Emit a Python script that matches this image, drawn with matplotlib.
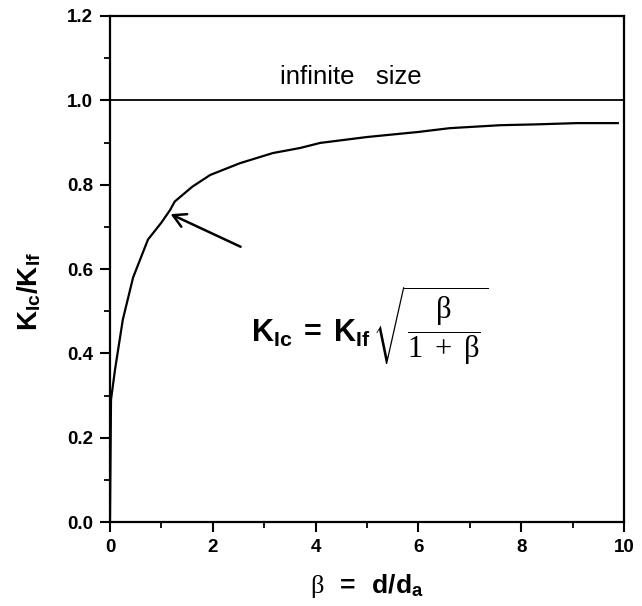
import numpy as np
import matplotlib
matplotlib.use("Agg")
import matplotlib.pyplot as plt
from matplotlib.ticker import MultipleLocator

plt.rcParams['font.family'] = ['Liberation Sans', 'DejaVu Sans']
plt.rcParams['mathtext.fontset'] = 'custom'
plt.rcParams['mathtext.bf'] = 'Liberation Sans:bold'
plt.rcParams['mathtext.rm'] = 'Liberation Serif'
plt.rcParams['mathtext.it'] = 'Liberation Serif:italic'

# size ratio curve, beta = d/d_a
beta = [0.0, 0.02, 0.1, 0.25, 0.45, 0.74, 1.0, 1.17, 1.26, 1.6, 1.95,
        2.53, 3.17, 3.7, 4.09, 5.0, 6.0, 6.61, 7.59, 8.3, 9.09, 9.88]
k_ratio = [0.0, 0.29, 0.363, 0.48, 0.58, 0.67, 0.71, 0.74, 0.76, 0.795, 0.823,
           0.851, 0.875, 0.887, 0.899, 0.913, 0.925, 0.934, 0.941, 0.943, 0.946, 0.946]
infinite_level = 1.0

fig = plt.figure(figsize=(6.42, 6.06), dpi=100)
ax = fig.add_axes([0.1713, 0.1386, 0.8006, 0.835])

ax.plot(beta, k_ratio, color='black', lw=1.6)
ax.axhline(infinite_level, color='black', lw=1.3)

ax.text(4.69, 1.055, 'infinite   size', fontsize=18.5, ha='center', va='center')

ax.annotate('', xy=(1.13, 0.733), xytext=(2.59, 0.65),
            arrowprops=dict(arrowstyle='->,head_length=0.9,head_width=0.5',
                            color='black', lw=1.8))

ax.text(5.06, 0.465,
        r'$\mathbf{K}_{\mathbf{Ic}}\ \mathbf{=}\ \mathbf{K}_{\mathbf{If}}\,'
        r'\sqrt{\dfrac{\mathrm{\beta}}{\mathrm{1\ +\ \beta}}}$',
        fontsize=22, ha='center', va='center')

ax.set_xlim(0, 10)
ax.set_ylim(0, 1.2)
ax.xaxis.set_minor_locator(MultipleLocator(1))
ax.yaxis.set_minor_locator(MultipleLocator(0.1))
ax.set_xticks(np.arange(0, 11, 2))
ax.set_xticklabels(['0', '2', '4', '6', '8', '10'])
ax.set_yticks(np.arange(0, 1.21, 0.2))
ax.set_yticklabels(['%.1f' % v for v in np.arange(0, 1.21, 0.2)])

ax.tick_params(which='major', direction='out', length=7, width=1.5,
               labelsize=13.5, pad=5)
ax.tick_params(which='minor', direction='out', length=4, width=1.3)
for lab in ax.get_xticklabels() + ax.get_yticklabels():
    lab.set_fontweight('bold')
for sp in ax.spines.values():
    sp.set_linewidth(1.6)

ax.set_xlabel(r'$\mathrm{\beta}\ \ \mathbf{=}\ \ \mathbf{d/d}_{\mathbf{a}}$',
              fontsize=19, labelpad=12)
ax.set_ylabel(r'$\mathbf{K}_{\mathbf{Ic}}\mathbf{/K}_{\mathbf{If}}$',
              fontsize=20, labelpad=12)
ax.yaxis.set_label_coords(-0.13, 0.455)

fig.savefig('out.png', dpi=100)
